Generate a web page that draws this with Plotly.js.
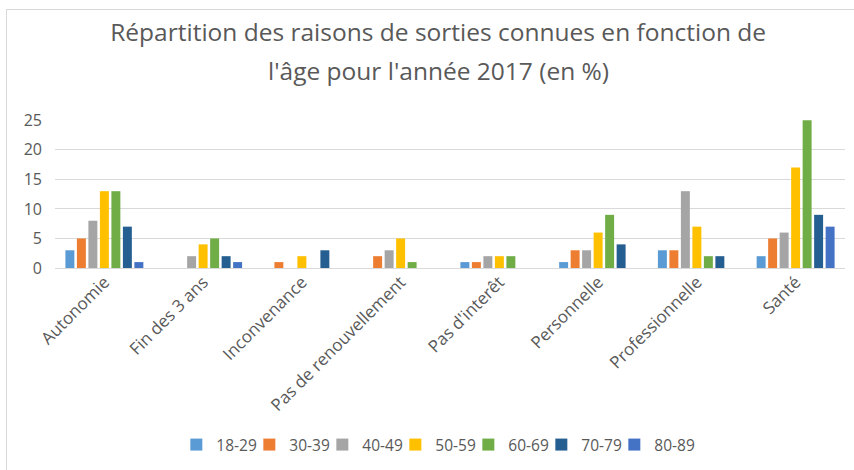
<!DOCTYPE html>
<html><head><meta charset="utf-8">
<script src="https://cdn.plot.ly/plotly-3.0.1.min.js"></script>
<style>
html,body{margin:0;padding:0;background:#fff;overflow:hidden;}
#frame{position:absolute;left:6px;top:9px;width:900px;height:500px;border-left:1px solid #d9d9d9;border-top:1px solid #d9d9d9;box-sizing:border-box;pointer-events:none;}
#chart{width:854px;height:470px;}
</style></head>
<body>
<div id="chart"></div>
<div id="frame"></div>
<script>
const categories = ["Autonomie","Fin des 3 ans","Inconvenance","Pas de renouvellement","Pas d'interêt","Personnelle","Professionnelle","Santé"];
const ageGroups = ["18-29","30-39","40-49","50-59","60-69","70-79","80-89"];
const v18_29 = [3,0,0,0,1,1,3,2];
const v30_39 = [5,0,1,2,1,3,3,5];
const v40_49 = [8,2,0,3,2,3,13,6];
const v50_59 = [13,4,2,5,2,6,7,17];
const v60_69 = [13,5,0,1,2,9,2,25];
const v70_79 = [7,2,3,0,0,4,2,9];
const v80_89 = [1,1,0,0,0,0,0,7];
const yTicks = [0,5,10,15,20,25];
const titleLine1 = "Répartition des raisons de sorties connues en fonction de";
const titleLine2 = "l'âge pour l'année 2017 (en %)";

const series = [v18_29,v30_39,v40_49,v50_59,v60_69,v70_79,v80_89];
const colors = ["#5B9BD5","#ED7D31","#A5A5A5","#FFC000","#70AD47","#255E91","#4472C4"];

const traces = series.map((vals,i)=>({
  type:"bar", name:ageGroups[i], x:categories, y:vals,
  marker:{color:colors[i]}, hoverinfo:"x+y+name"
}));

const plotH = 470-120-202;
const titleFont = {size:24.5, color:"#595959", family:"Open Sans, sans-serif"};
const layout = {
  width:854, height:470,
  margin:{l:55,r:9,t:120,b:202},
  paper_bgcolor:"#ffffff", plot_bgcolor:"#ffffff",
  font:{family:"Open Sans, sans-serif", color:"#595959"},
  title:{text:titleLine1, xref:"paper", yref:"container",
         x:0.485, xanchor:"center", y:1-32/470, yanchor:"middle",
         font:titleFont},
  annotations:[{text:titleLine2, xref:"paper", yref:"paper", x:0.485, xanchor:"center",
         y:1+(120-70)/plotH, yanchor:"middle", showarrow:false, font:titleFont}],
  barmode:"group", bargap:0.185, bargroupgap:0.22,
  xaxis:{tickangle:-45, tickfont:{size:17,color:"#595959"}, showgrid:false,
         showline:false, ticks:"", automargin:false},
  yaxis:{range:[0,25.05], tickvals:yTicks, ticktext:yTicks.map(String),
         showgrid:true, gridcolor:"#d9d9d9", gridwidth:1, zeroline:true, zerolinecolor:"#d9d9d9",
         tickfont:{size:16,color:"#595959"}, ticks:"", ticklabelstandoff:12, automargin:false},
  showlegend:true,
  legend:{orientation:"h", x:0.477, xanchor:"center", y:-(445-268)/plotH, yanchor:"middle",
          font:{size:15.5,color:"#595959"}, itemwidth:30, entrywidth:28, entrywidthmode:"pixels",
          tracegroupgap:0, bgcolor:"rgba(0,0,0,0)"}
};
Plotly.newPlot("chart", traces, layout, {displayModeBar:false, staticPlot:true}).then(gd=>{
  gd.querySelectorAll('.legend .scrollbox, .legend').forEach(el=>el.removeAttribute('clip-path'));
});
</script>
</body></html>
